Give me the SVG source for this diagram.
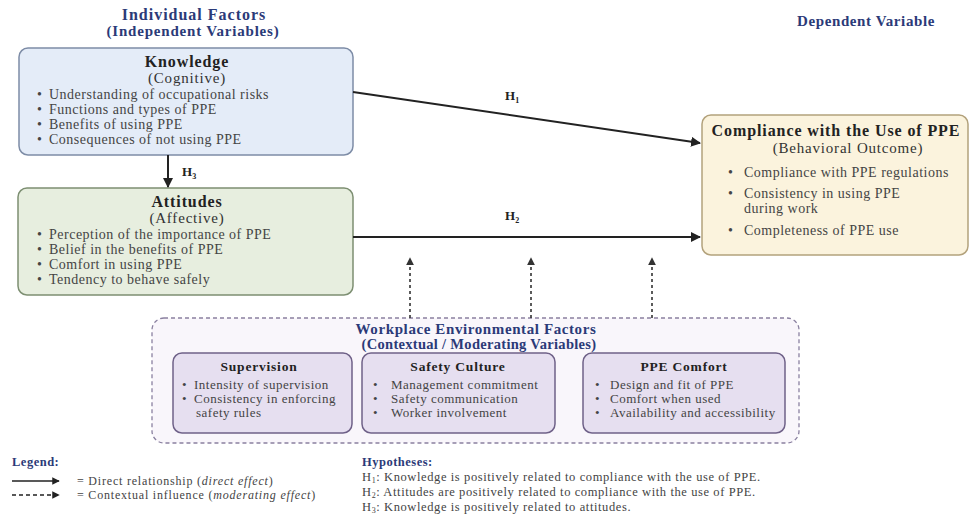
<svg xmlns="http://www.w3.org/2000/svg" width="972" height="520" viewBox="0 0 972 520">
<defs>
<style>
text{font-family:"Liberation Serif","Times New Roman",serif;fill:#333;}
.hd{font-weight:bold;fill:#2b3a78;font-size:16px;letter-spacing:1px;}
.hs{font-weight:bold;fill:#2b3a78;font-size:15px;letter-spacing:0.8px;}
.dv{font-weight:bold;fill:#2b3a78;font-size:15px;letter-spacing:0.6px;}
.wh{font-weight:bold;fill:#2b3a78;font-size:15px;letter-spacing:0.6px;}
.ws{font-weight:bold;fill:#2b3a78;font-size:14.5px;letter-spacing:0.3px;}
.t{font-weight:bold;fill:#222;font-size:16px;letter-spacing:0.9px;}
.st{fill:#333;font-size:15px;letter-spacing:0.8px;}
.b{font-size:14px;fill:#444;letter-spacing:0.5px;}
.bs{font-size:13px;fill:#444;letter-spacing:0.5px;}
.lg{font-size:12px;fill:#444;letter-spacing:0.8px;}
.hy{font-size:12.5px;fill:#444;letter-spacing:0.6px;}
.hl{font-weight:bold;fill:#222;font-size:13.5px;letter-spacing:0.8px;}
.hx{font-weight:bold;fill:#222;font-size:13px;}
.lh{font-weight:bold;fill:#2b3a78;font-size:12.5px;letter-spacing:0.5px;}
.conn{stroke:#222;stroke-width:2;fill:none;}
.dot{stroke:#333;stroke-width:1.6;stroke-dasharray:3 3;fill:none;}
</style>
<marker id="ah" viewBox="0 0 10 10" refX="9" refY="5" markerWidth="5" markerHeight="5" orient="auto" markerUnits="strokeWidth"><path d="M0,0 L10,5 L0,10 z" fill="#222"/></marker>
<marker id="ahs" viewBox="0 0 10 10" refX="9" refY="5" markerWidth="5" markerHeight="5" orient="auto" markerUnits="strokeWidth"><path d="M0,0 L10,5 L0,10 z" fill="#333"/></marker>
</defs>
<rect width="972" height="520" fill="#fff"/>

<g id="headings">
<text class="hd" x="194" y="20" text-anchor="middle">Individual Factors</text>
<text class="hs" x="193" y="36" text-anchor="middle">(Independent Variables)</text>
<text class="dv" x="866" y="26" text-anchor="middle">Dependent Variable</text>
</g>

<g id="knowledge">
<rect x="19" y="48" width="334" height="107" rx="9" fill="#e4ecf8" stroke="#7d8ca6" stroke-width="1.5"/>
<text class="t" x="187" y="67" text-anchor="middle">Knowledge</text>
<text class="st" x="187" y="83" text-anchor="middle">(Cognitive)</text>
<text class="b" x="37" y="99">•</text><text class="b" x="49" y="99">Understanding of occupational risks</text>
<text class="b" x="37" y="114">•</text><text class="b" x="49" y="114">Functions and types of PPE</text>
<text class="b" x="37" y="129">•</text><text class="b" x="49" y="129">Benefits of using PPE</text>
<text class="b" x="37" y="144">•</text><text class="b" x="49" y="144">Consequences of not using PPE</text>
</g>

<g id="attitudes">
<rect x="18" y="188" width="335" height="107" rx="9" fill="#e7eedf" stroke="#7d8f72" stroke-width="1.5"/>
<text class="t" x="187" y="207" text-anchor="middle">Attitudes</text>
<text class="st" x="187" y="223" text-anchor="middle">(Affective)</text>
<text class="b" x="37" y="239">•</text><text class="b" x="49" y="239">Perception of the importance of PPE</text>
<text class="b" x="37" y="254">•</text><text class="b" x="49" y="254">Belief in the benefits of PPE</text>
<text class="b" x="37" y="269">•</text><text class="b" x="49" y="269">Comfort in using PPE</text>
<text class="b" x="37" y="284">•</text><text class="b" x="49" y="284">Tendency to behave safely</text>
</g>

<g id="compliance">
<rect x="702" y="115" width="266" height="140" rx="9" fill="#fbf3dd" stroke="#b3a27c" stroke-width="1.5"/>
<text class="t" x="836" y="136" text-anchor="middle">Compliance with the Use of PPE</text>
<text class="st" x="848" y="153" text-anchor="middle">(Behavioral Outcome)</text>
<text class="b" x="728" y="177">•</text><text class="b" x="744" y="177">Compliance with PPE regulations</text>
<text class="b" x="728" y="198">•</text><text class="b" x="744" y="198">Consistency in using PPE</text>
<text class="b" x="744" y="213">during work</text>
<text class="b" x="728" y="235">•</text><text class="b" x="744" y="235">Completeness of PPE use</text>
</g>

<g id="workplace">
<rect x="152" y="318" width="647" height="125" rx="12" fill="#f9f6fb" stroke="#8a80a0" stroke-width="1.3" stroke-dasharray="4 3"/>
<text class="wh" x="476" y="334" text-anchor="middle">Workplace Environmental Factors</text>
<text class="ws" x="479" y="349" text-anchor="middle">(Contextual / Moderating Variables)</text>
</g>

<g id="supervision">
<rect x="173" y="353" width="179" height="80" rx="9" fill="#e6dff0" stroke="#6f6188" stroke-width="1.5"/>
<text class="hl" x="259" y="371" text-anchor="middle">Supervision</text>
<text class="bs" x="182" y="389">•</text><text class="bs" x="194" y="389">Intensity of supervision</text>
<text class="bs" x="182" y="403">•</text><text class="bs" x="194" y="403">Consistency in enforcing</text>
<text class="bs" x="196" y="417">safety rules</text>
</g>

<g id="safety-culture">
<rect x="362" y="353" width="193" height="80" rx="9" fill="#e6dff0" stroke="#6f6188" stroke-width="1.5"/>
<text class="hl" x="458" y="371" text-anchor="middle">Safety Culture</text>
<text class="bs" x="373" y="389">•</text><text class="bs" x="391" y="389">Management commitment</text>
<text class="bs" x="373" y="403">•</text><text class="bs" x="391" y="403">Safety communication</text>
<text class="bs" x="373" y="417">•</text><text class="bs" x="391" y="417">Worker involvement</text>
</g>

<g id="ppe-comfort">
<rect x="583" y="353" width="202" height="80" rx="9" fill="#e6dff0" stroke="#6f6188" stroke-width="1.5"/>
<text class="hl" x="684" y="371" text-anchor="middle">PPE Comfort</text>
<text class="bs" x="595" y="389">•</text><text class="bs" x="610" y="389">Design and fit of PPE</text>
<text class="bs" x="595" y="403">•</text><text class="bs" x="610" y="403">Comfort when used</text>
<text class="bs" x="595" y="417">•</text><text class="bs" x="610" y="417">Availability and accessibility</text>
</g>

<g id="connectors">
<line class="conn" x1="353" y1="92" x2="700" y2="143" marker-end="url(#ah)"/>
<line class="conn" x1="353" y1="237" x2="700" y2="237" marker-end="url(#ah)"/>
<line class="conn" x1="168" y1="155" x2="168" y2="187" marker-end="url(#ah)"/>
<line class="dot" x1="410" y1="318" x2="410" y2="258" marker-end="url(#ahs)"/>
<line class="dot" x1="531" y1="318" x2="531" y2="258" marker-end="url(#ahs)"/>
<line class="dot" x1="652" y1="318" x2="652" y2="258" marker-end="url(#ahs)"/>
<text class="hx" x="505" y="100">H<tspan font-size="8" dy="3">1</tspan></text>
<text class="hx" x="505" y="220">H<tspan font-size="8" dy="3">2</tspan></text>
<text class="hx" x="182" y="176">H<tspan font-size="8" dy="3">3</tspan></text>
</g>

<g id="legend">
<text class="lh" x="12" y="466">Legend:</text>
<line x1="12" y1="481" x2="59" y2="481" stroke="#222" stroke-width="1.5" marker-end="url(#ah)"/>
<line x1="12" y1="495" x2="59" y2="495" stroke="#222" stroke-width="1.5" stroke-dasharray="4 3" marker-end="url(#ah)"/>
<text class="lg" x="77" y="485">= Direct relationship (<tspan font-style="italic">direct effect</tspan>)</text>
<text class="lg" x="77" y="499">= Contextual influence (<tspan font-style="italic">moderating effect</tspan>)</text>
</g>

<g id="hypotheses">
<text class="lh" x="362" y="466">Hypotheses:</text>
<text class="hy" x="362" y="481">H<tspan font-size="8" dy="2">1</tspan><tspan dy="-2">: Knowledge is positively related to compliance with the use of PPE.</tspan></text>
<text class="hy" x="362" y="496">H<tspan font-size="8" dy="2">2</tspan><tspan dy="-2">: Attitudes are positively related to compliance with the use of PPE.</tspan></text>
<text class="hy" x="362" y="511">H<tspan font-size="8" dy="2">3</tspan><tspan dy="-2">: Knowledge is positively related to attitudes.</tspan></text>
</g>
</svg>
